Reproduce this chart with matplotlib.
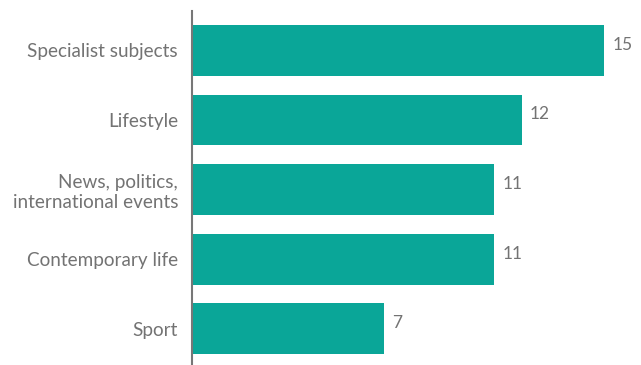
import matplotlib
matplotlib.use('Agg')
import matplotlib.pyplot as plt

categories = ['Specialist subjects', 'Lifestyle', 'News, politics,\ninternational events',
              'Contemporary life', 'Sport']
values = [15, 12, 11, 11, 7]

plt.rcParams['font.family'] = ['Lato', 'DejaVu Sans']

fig = plt.figure(figsize=(6.41, 3.65), dpi=100)
ax = fig.add_axes([192 / 641, 0, 449 / 641, 354 / 365])

pos = list(range(len(categories)))
ax.barh(pos, values, height=0.73, color='#0aa698')

ax.set_ylim(4.52, -0.567)
ax.set_xlim(0, 16.35)

for y, v in zip(pos, values):
    ax.annotate(str(v), (v, y), xytext=(6, 4), textcoords='offset points',
                ha='left', va='center', fontsize=12.5, color='#737373')

ax.set_yticks(pos)
ax.set_yticklabels(categories, fontsize=13.6, color='#737373', linespacing=1.2)
ax.tick_params(axis='y', length=0, pad=10)
ax.set_xticks([])

for side in ['top', 'right', 'bottom']:
    ax.spines[side].set_visible(False)
ax.spines['left'].set_color('#777777')
ax.spines['left'].set_linewidth(1.5)

fig.savefig('out.png', dpi=100)
